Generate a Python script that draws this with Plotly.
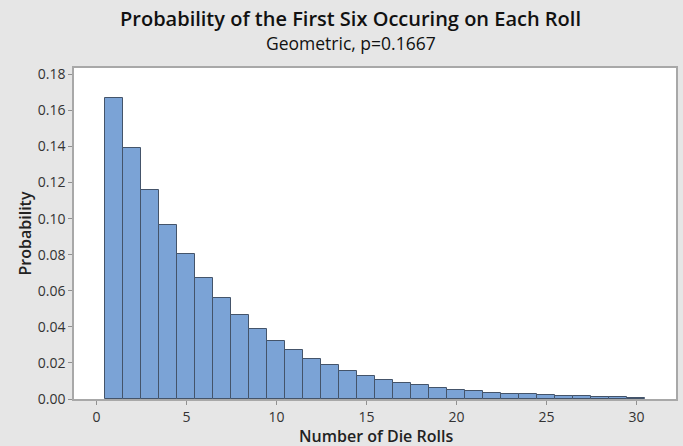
import plotly.graph_objects as go

rolls = list(range(1, 31))
probability = [0.1667, 0.1389, 0.1157, 0.0965, 0.0804, 0.0670, 0.0558, 0.0465,
               0.0388, 0.0323, 0.0269, 0.0224, 0.0187, 0.0156, 0.0130, 0.0108,
               0.0090, 0.0075, 0.0063, 0.0052, 0.0043, 0.0036, 0.0030, 0.0025,
               0.0021, 0.0017, 0.0015, 0.0012, 0.0010, 0.0008]
x_ticks = [0, 5, 10, 15, 20, 25, 30]
y_ticks = [0.00, 0.02, 0.04, 0.06, 0.08, 0.10, 0.12, 0.14, 0.16, 0.18]

title_text = "Probability of the First Six Occuring on Each Roll"
subtitle_text = "Geometric, p=0.1667"
x_title = "Number of Die Rolls"
y_title = "Probability"

FONT = "Open Sans"

fig = go.Figure()
fig.add_trace(go.Bar(
    x=rolls, y=probability, width=1,
    marker=dict(color="#7ba3d6", line=dict(color="#44546a", width=1)),
    showlegend=False,
))

fig.update_layout(
    width=683, height=446,
    margin=dict(l=74, r=7, t=68, b=47, autoexpand=False),
    paper_bgcolor="#e6e6e6",
    plot_bgcolor="#ffffff",
    font=dict(family=FONT, color="#222222"),
    bargap=0,
    annotations=[
        dict(text=title_text, xref="paper", yref="paper", x=0.46, y=1,
             yshift=50, showarrow=False, xanchor="center", yanchor="middle",
             font=dict(family=FONT, size=20, color="#111111", weight=600)),
        dict(text=subtitle_text, xref="paper", yref="paper", x=0.46, y=1,
             yshift=25, showarrow=False, xanchor="center", yanchor="middle",
             font=dict(family=FONT, size=17.5, color="#111111")),
        dict(text=x_title, xref="paper", yref="paper", x=0.502, y=0,
             yshift=-36.5, showarrow=False, xanchor="center", yanchor="middle",
             borderpad=0,
             font=dict(family=FONT, size=16, color="#222222", weight=600)),
        dict(text=y_title, xref="paper", yref="paper", x=0, y=0.5,
             xshift=-50, showarrow=False, xanchor="center", yanchor="middle",
             textangle=-90,
             font=dict(family=FONT, size=16, color="#222222", weight=600)),
    ],
)

fig.update_xaxes(
    range=[-1.25, 32.2], tickvals=x_ticks, ticks="outside", ticklen=4,
    tickcolor="#909090", tickfont=dict(size=14, color="#333333"),
    showgrid=False, zeroline=False, showline=True, linecolor="#a8a8a8",
    linewidth=1.5, mirror=True, automargin=False,
)
fig.update_yaxes(
    range=[0, 0.1835], tickvals=y_ticks, tickformat=".2f", ticks="outside",
    ticklen=4, tickcolor="#909090", tickfont=dict(size=14, color="#333333"),
    showgrid=False, zeroline=False, showline=True, linecolor="#a8a8a8",
    linewidth=1.5, mirror=True, automargin=False,
)

fig.write_html("out.html", config={"displayModeBar": False},
               post_script="document.body.style.margin='0';")
